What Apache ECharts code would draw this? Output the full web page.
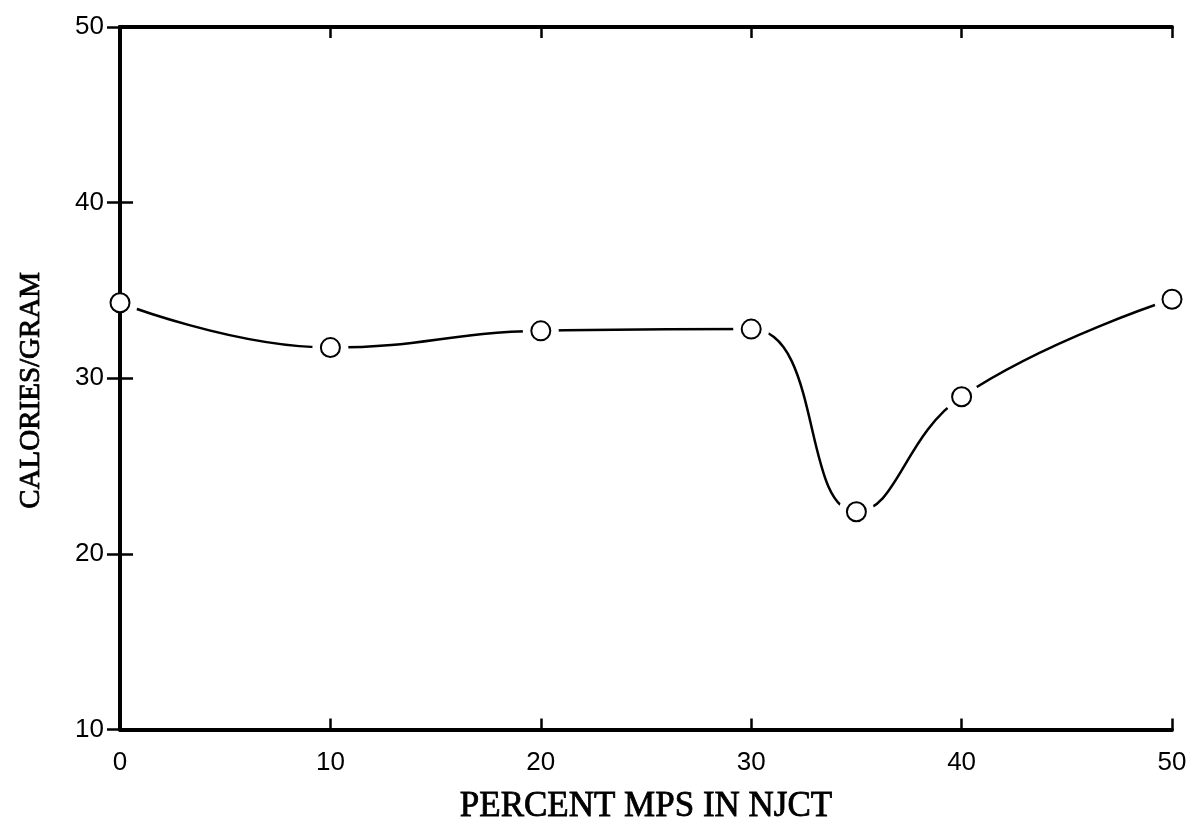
<!DOCTYPE html>
<html>
<head>
<meta charset="utf-8">
<script src="https://cdn.jsdelivr.net/npm/echarts@6/dist/echarts.min.js"></script>
<style>
html,body{margin:0;padding:0;background:#fff;}
#chart{width:1193px;height:830px;}
</style>
</head>
<body>
<div id="chart"></div>
<script>
const xValues = [0, 10, 20, 30, 35, 40, 50];
const yValues = [34.3, 31.75, 32.7, 32.8, 22.4, 28.95, 34.5];
const xTitle = 'PERCENT MPS IN NJCT';
const yTitle = 'CALORIES/GRAM';

const pts = xValues.map((x, i) => [x, yValues[i]]);
const chart = echarts.init(document.getElementById('chart'));
const tickFont = {color: '#000', fontSize: 26, fontFamily: 'Liberation Sans'};
const axisLine = {show: true, lineStyle: {color: '#000', width: 4}};
const tickX = {show: true, inside: true, length: 11, lineStyle: {color: '#000', width: 2.5}};
const tickY = {show: true, inside: true, length: 13, lineStyle: {color: '#000', width: 2.5}};
chart.setOption({
  animation: false,
  backgroundColor: '#fff',
  grid: {left: 120, right: 21, top: 27, bottom: 97},
  xAxis: [{
    type: 'value', min: 0, max: 50, interval: 10, zlevel: 1,
    axisLine: axisLine, axisTick: tickX, splitLine: {show: false},
    axisLabel: Object.assign({margin: 20}, tickFont),
    name: xTitle, nameLocation: 'middle', nameGap: 60,
    nameTextStyle: {color: '#000', fontSize: 35, fontFamily: 'Liberation Serif', textBorderColor: '#000', textBorderWidth: 0.8}
  }, {
    type: 'value', min: 0, max: 50, interval: 10, position: 'top', zlevel: 1,
    axisLine: axisLine, axisTick: tickX, splitLine: {show: false}, axisLabel: {show: false}
  }],
  yAxis: [{
    type: 'value', min: 10, max: 50, interval: 10, zlevel: 1,
    axisLine: axisLine, axisTick: tickY, splitLine: {show: false},
    axisLabel: Object.assign({margin: 16}, tickFont),
    name: yTitle, nameLocation: 'middle', nameGap: 74,
    nameTextStyle: {color: '#000', fontSize: 29, fontFamily: 'Liberation Serif', textBorderColor: '#000', textBorderWidth: 0.8, padding: [0, 24, 0, 0]}
  }, {
    type: 'value', min: 10, max: 50, interval: 10, position: 'right', zlevel: 1,
    axisLine: axisLine, axisTick: tickY, splitLine: {show: false}, axisLabel: {show: false}
  }],
  series: [{
    type: 'line', data: pts, smooth: 0.45, z: 1,
    symbol: 'circle', symbolSize: 36,
    itemStyle: {color: '#fff', borderWidth: 0, opacity: 1},
    lineStyle: {color: '#000', width: 2.5}
  }, {
    type: 'scatter', data: pts, zlevel: 2,
    symbol: 'emptyCircle', symbolSize: 19,
    itemStyle: {color: '#000', borderColor: '#000', borderWidth: 2.5, opacity: 1}
  }]
});
</script>
</body>
</html>
